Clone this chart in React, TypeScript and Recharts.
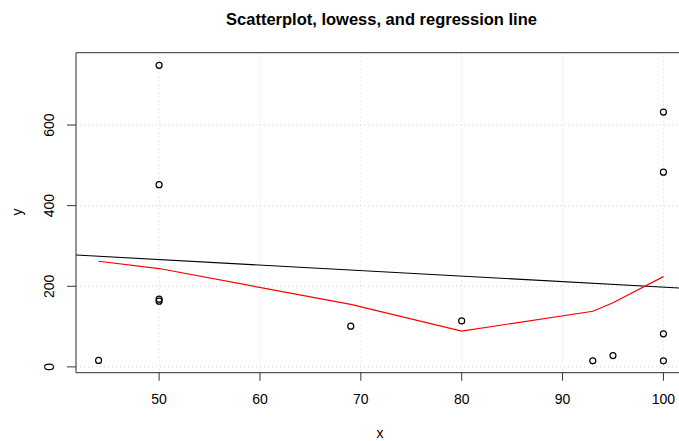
import React from "react";
import {
  ComposedChart,
  Scatter,
  Line,
  XAxis,
  YAxis,
  CartesianGrid,
  ReferenceArea,
} from "recharts";

// Observations
const xValues = [44, 50, 50, 50, 50, 69, 80, 93, 95, 100, 100, 100, 100];
const yValues = [16, 748, 452, 163, 168, 101, 114, 15, 28, 82, 15, 632, 483];

// Lowess smooth (red)
const lowessX = [44, 50, 69, 80, 93, 95, 100];
const lowessY = [262, 244, 155, 89, 138, 159, 224];

// Regression line (black) endpoints
const regX = [41.76, 102.24];
const regY = [277.6, 194.9];

// Axes
const xTicks = [50, 60, 70, 80, 90, 100];
const yTicks = [0, 200, 400, 600];
const xDomain: [number, number] = [41.76, 102.24];
const yDomain: [number, number] = [-14.4, 779.4];

const title = "Scatterplot, lowess, and regression line";
const xLabel = "x";
const yLabel = "y";

const points = xValues.map((x, i) => ({ x, y: yValues[i] }));
const lowess = lowessX.map((x, i) => ({ x, y: lowessY[i] }));
const reg = regX.map((x, i) => ({ x, y: regY[i] }));

const FONT = "'Liberation Sans', Arial, Helvetica, sans-serif";
const AXIS_FS = 14;

const XTick = (props: any) => {
  const { x, payload } = props;
  return (
    <text
      x={x}
      y={404}
      textAnchor="middle"
      fontFamily={FONT}
      fontSize={AXIS_FS}
      fill="#000"
    >
      {payload.value}
    </text>
  );
};

const YTick = (props: any) => {
  const { y, payload } = props;
  const tx = 54;
  return (
    <text
      x={tx}
      y={y}
      transform={`rotate(-90, ${tx}, ${y})`}
      textAnchor="middle"
      fontFamily={FONT}
      fontSize={AXIS_FS}
      fill="#000"
    >
      {payload.value}
    </text>
  );
};

const OpenCircle = (props: any) => {
  const { cx, cy } = props;
  return <circle cx={cx} cy={cy} r={3} fill="none" stroke="#000" strokeWidth={1.2} />;
};

export default function App() {
  return (
    <div
      style={{
        position: "absolute",
        left: 0,
        top: 0,
        width: 679,
        height: 441,
        overflow: "hidden",
        background: "#fff",
      }}
    >
      <ComposedChart
        width={700}
        height={441}
        margin={{ top: 52.7, right: 14, bottom: 0, left: 0 }}
      >
        <CartesianGrid
          stroke="#d3d3d3"
          strokeDasharray="1 3"
          strokeWidth={1}
        />
        <XAxis
          type="number"
          dataKey="x"
          domain={xDomain}
          ticks={xTicks}
          allowDataOverflow
          height={68.3}
          axisLine={false}
          tickSize={8}
          tickLine={{ stroke: "#333", strokeWidth: 1 }}
          tick={<XTick />}
          interval={0}
        />
        <YAxis
          type="number"
          dataKey="y"
          domain={yDomain}
          ticks={yTicks}
          allowDataOverflow
          width={76}
          axisLine={false}
          tickSize={9}
          tickLine={{ stroke: "#333", strokeWidth: 1 }}
          tick={<YTick />}
          interval={0}
        />
        <ReferenceArea
          x1={xDomain[0]}
          x2={xDomain[1]}
          y1={yDomain[0]}
          y2={yDomain[1]}
          fill="none"
          stroke="#333"
          strokeWidth={1}
          ifOverflow="visible"
        />
        <Scatter
          data={points}
          dataKey="y"
          shape={<OpenCircle />}
          isAnimationActive={false}
        />
        <Line
          data={reg}
          dataKey="y"
          type="linear"
          stroke="#000"
          strokeWidth={1.1}
          dot={false}
          activeDot={false}
          isAnimationActive={false}
        />
        <Line
          data={lowess}
          dataKey="y"
          type="linear"
          stroke="#ff0000"
          strokeWidth={1.2}
          dot={false}
          activeDot={false}
          isAnimationActive={false}
        />
        <text
          x={381.5}
          y={25}
          textAnchor="middle"
          fontFamily={FONT}
          fontSize={16.5}
          fontWeight="bold"
          fill="#000"
        >
          {title}
        </text>
        <text
          x={380}
          y={438}
          textAnchor="middle"
          fontFamily={FONT}
          fontSize={AXIS_FS}
          fill="#000"
        >
          {xLabel}
        </text>
        <text
          x={22}
          y={212}
          transform="rotate(-90, 22, 212)"
          textAnchor="middle"
          fontFamily={FONT}
          fontSize={AXIS_FS}
          fill="#000"
        >
          {yLabel}
        </text>
      </ComposedChart>
    </div>
  );
}
